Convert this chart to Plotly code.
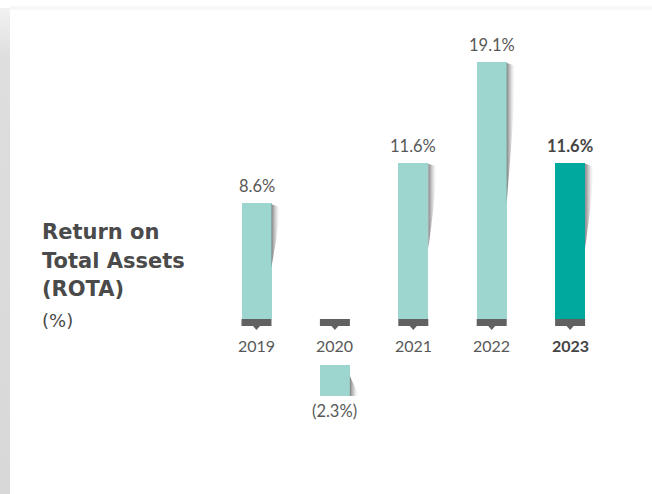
import plotly.graph_objects as go

# ---- data ----
years = ["2019", "2020", "2021", "2022", "2023"]
rota = [8.6, -2.3, 11.6, 19.1, 11.6]
value_labels = ["8.6%", "(2.3%)", "11.6%", "19.1%", "11.6%"]
highlight_year = "2023"
title_lines = ["Return on", "Total Assets", "(ROTA)"]
unit_label = "(%)"

# ---- geometry (pixel based helpers) ----
W, H = 652, 494
PX_PER_UNIT_X = 78.4     # horizontal distance between bar centres
FIRST_CENTER_PX = 256.5
BASE_PX = 319            # pixel row of the zero line
PX_PER_PCT = 13.46

xmin = -FIRST_CENTER_PX / PX_PER_UNIT_X
xmax = xmin + W / PX_PER_UNIT_X
ytop = BASE_PX / PX_PER_PCT
ybot = -(H - BASE_PX) / PX_PER_PCT


def dx(px):
    return px / PX_PER_UNIT_X


def dy(px):
    return px / PX_PER_PCT


def px_x(px):
    return xmin + dx(px)


def px_y(py):
    return ytop - dy(py)


BAR_W = dx(30)
NEG_BASE = -dy(46)       # negative bars hang below the year labels

LIGHT = "#9dd6cf"
DARK = "#00a99d"
MARKER = "#616161"
TEXT = "#585858"
TITLE = "#4a4a4a"

xs = list(range(len(years)))
bases = [0 if v >= 0 else NEG_BASE for v in rota]
colors = [DARK if y == highlight_year else LIGHT for y in years]

fig = go.Figure()

# page edge shadow down the left side (lighter near the top corner)
fig.add_trace(go.Scatter(
    x=[px_x(0), px_x(10), px_x(10), px_x(0), px_x(0)],
    y=[px_y(8), px_y(8), px_y(H), px_y(H), px_y(8)],
    mode="lines", line=dict(width=0), fill="toself",
    fillgradient=dict(type="vertical",
                      colorscale=[[0, "rgb(216,216,216)"], [0.9, "rgb(222,222,222)"],
                                  [1, "rgb(242,242,242)"]]),
    hoverinfo="skip", showlegend=False,
))

# drop shadows to the right of each bar
for i, (v, b) in enumerate(zip(rota, bases)):
    xr = i + BAR_W / 2
    if v >= 0:
        L = 0.55 * v
        px = [xr, xr + dx(9), xr + dx(8), xr + dx(5), xr, xr]
        py = [v - dy(1), v - dy(4), v - 0.2 * L, v - 0.55 * L, v - L, v - dy(1)]
    else:
        bottom = b + v
        px = [xr, xr + dx(9), xr, xr]
        py = [bottom + dy(20), bottom, bottom, bottom + dy(20)]
    fig.add_trace(go.Scatter(
        x=px, y=py, mode="lines", line=dict(width=0),
        fill="toself",
        fillgradient=dict(type="horizontal",
                          colorscale=[[0, "rgba(105,105,105,0.85)"],
                                      [0.5, "rgba(170,170,170,0.45)"],
                                      [1, "rgba(255,255,255,0)"]]),
        hoverinfo="skip", showlegend=False,
    ))

fig.add_trace(go.Bar(
    x=xs, y=rota, base=bases, width=BAR_W,
    marker=dict(color=colors, line=dict(width=0)),
    hoverinfo="skip", showlegend=False,
))

shapes = []
annotations = []

# baseline tabs with a small pointer under each year
for i in xs:
    shapes.append(dict(type="rect", xref="x", yref="y",
                       x0=i - BAR_W / 2, x1=i + BAR_W / 2, y0=0, y1=-dy(7),
                       fillcolor=MARKER, line=dict(width=0), layer="above"))
    shapes.append(dict(type="path", xref="x", yref="y",
                       path=f"M {i - dx(3.5)},{-dy(7)} L {i + dx(3.5)},{-dy(7)} L {i},{-dy(11)} Z",
                       fillcolor=MARKER, line=dict(width=0), layer="above"))

# faint shadow along the top edge
shapes.append(dict(type="rect", xref="paper", yref="paper",
                   x0=10 / W, x1=1, y0=1 - 10 / H, y1=1 - 6 / H,
                   fillcolor="rgb(247,247,247)", line=dict(width=0), layer="below"))

# value labels and year labels
for i, (y, v, b, lab) in enumerate(zip(years, rota, bases, value_labels)):
    bold = y == highlight_year
    col = "#444444" if bold else TEXT
    txt_val = f"<b>{lab}</b>" if bold else lab
    txt_year = f"<b>{y}</b>" if bold else y
    if v >= 0:
        annotations.append(dict(x=i, y=v, xref="x", yref="y", text=txt_val,
                                showarrow=False, yanchor="bottom", yshift=5,
                                font=dict(family="Lato", size=16.5, color=col)))
    else:
        annotations.append(dict(x=i, y=b + v, xref="x", yref="y", text=txt_val,
                                showarrow=False, yanchor="top", yshift=-3,
                                font=dict(family="Lato", size=16.5, color=col)))
    annotations.append(dict(x=i, y=0, xref="x", yref="y", text=txt_year,
                            showarrow=False, yanchor="top", yshift=-15,
                            font=dict(family="Lato", size=16, color=col)))

# left-hand title block
for k, line in enumerate(title_lines):
    annotations.append(dict(x=40 / W, y=1 - (232 + 28.5 * k) / H, xref="paper", yref="paper",
                            text=f"<b>{line}</b>", showarrow=False,
                            xanchor="left", yanchor="middle",
                            font=dict(family="DejaVu Sans", size=21, color=TITLE)))
annotations.append(dict(x=40 / W, y=1 - 320 / H, xref="paper", yref="paper",
                        text=unit_label, showarrow=False, xanchor="left", yanchor="middle",
                        font=dict(family="DejaVu Sans", size=18, color=TITLE)))

fig.update_layout(
    width=W, height=H,
    margin=dict(l=0, r=0, t=0, b=0),
    paper_bgcolor="white", plot_bgcolor="white",
    xaxis=dict(range=[xmin, xmax], visible=False, fixedrange=True),
    yaxis=dict(range=[ybot, ytop], visible=False, fixedrange=True),
    shapes=shapes, annotations=annotations,
    bargap=0, showlegend=False,
)

fig.write_html("out.html")
